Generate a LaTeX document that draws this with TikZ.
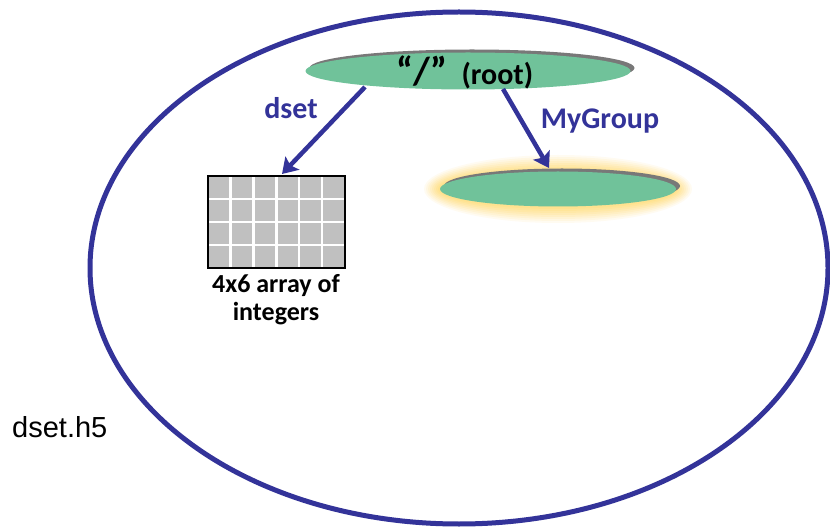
\documentclass[tikz,border=0pt]{standalone}
\usepackage{fontspec}
\setmainfont{Carlito}
\newfontfamily\arialf{Liberation Sans}
\usetikzlibrary{arrows.meta,shapes.geometric,calc}
\definecolor{hblue}{RGB}{51,51,153}
\definecolor{hgreen}{RGB}{112,194,154}
\definecolor{hshadow}{RGB}{120,120,120}
\definecolor{hglow}{RGB}{255,222,120}
\definecolor{hgrid}{RGB}{192,192,192}
\tikzset{
  grpellipse/.style={ellipse, fill=hgreen, inner sep=0pt},
  shadowellipse/.style={ellipse, fill=hshadow, inner sep=0pt},
  linkarrow/.style={draw=hblue, line width=4.5pt, -{Stealth[length=15pt,width=19pt,inset=3pt]}},
  linklabel/.style={text=hblue, font=\bfseries\fontsize{30}{34}\selectfont},
}
\begin{document}
\begin{tikzpicture}[x=1pt,y=-1pt]
\useasboundingbox (0,0) rectangle (830,529);
\fill[white] (0,0) rectangle (830,529);
% file ellipse
\draw[hblue, line width=5pt] (459,268) ellipse [x radius=369, y radius=256];
\node[font=\arialf\fontsize{29}{32}\selectfont, anchor=base west, inner sep=0pt] (fname) at (12,437) {dset.h5};
% root group
\node[shadowellipse, minimum width=325pt, minimum height=37pt] (rootshadow) at (472,68) {};
\node[grpellipse, minimum width=325pt, minimum height=37pt] (root) at (468,71) {};
\node[anchor=base, font=\bfseries, inner sep=0pt] (roottext) at (465,85) {\fontsize{39}{42}\selectfont “/”\hspace{14pt}\fontsize{30}{34}\selectfont(root)};
% MyGroup glow
\foreach \k/\o in {16/0.10,14/0.12,12/0.14,10/0.16,8/0.19,6/0.22,4/0.26,2/0.32}{
  \fill[hglow, fill opacity=\o] (558,189) ellipse [x radius={118+\k}, y radius={18+\k}];
}
\node[shadowellipse, minimum width=236pt, minimum height=35pt] (mgshadow) at (562,186) {};
\node[grpellipse, minimum width=236pt, minimum height=35pt] (mygroup) at (558,189) {};
% dataset grid
\node[fill=hgrid, minimum width=137pt, minimum height=92pt, inner sep=0pt] (grid) at (276.5,222) {};
\foreach \i in {1,...,5}{
  \draw[white, line width=2.5pt] ($(grid.north west)+({\i*137/6},0)$) -- ($(grid.south west)+({\i*137/6},0)$);
}
\foreach \j in {1,2,3}{
  \draw[white, line width=2.5pt] ($(grid.north west)+(0,{\j*23})$) -- ($(grid.north east)+(0,{\j*23})$);
}
\draw[black, line width=2pt] (grid.north west) rectangle (grid.south east);
\node[align=center, font=\bfseries\fontsize{26}{28}\selectfont, anchor=north, inner sep=0pt] (gridlabel) at (276,274) {4x6 array of\\integers};
% links
\coordinate (a1s) at (365,87);
\coordinate (a1e) at (282,174);
\coordinate (a2s) at (503,89);
\coordinate (a2e) at (549,168);
\draw[linkarrow] (a1s) -- (a1e);
\draw[linkarrow] (a2s) -- (a2e);
\node[linklabel, anchor=base] (dsetlbl) at (291,119) {dset};
\node[linklabel, anchor=base] (mglbl) at (600,129) {MyGroup};
\end{tikzpicture}
\end{document}
